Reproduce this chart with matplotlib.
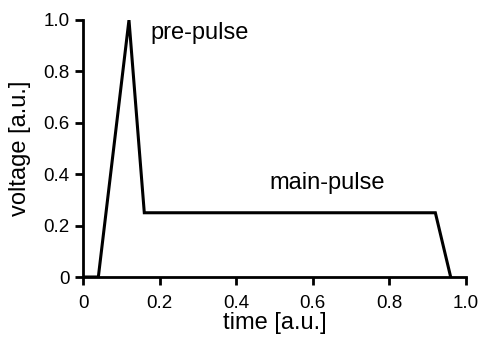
import matplotlib
matplotlib.use("Agg")
import matplotlib.pyplot as plt

time = [0.0, 0.04, 0.12, 0.16, 0.92, 0.96]
voltage = [0.0, 0.0, 1.0, 0.25, 0.25, 0.0]
xticks = [0, 0.2, 0.4, 0.6, 0.8, 1.0]
xticklabels = ["0", "0.2", "0.4", "0.6", "0.8", "1.0"]
yticks = [0, 0.2, 0.4, 0.6, 0.8, 1.0]
yticklabels = ["0", "0.2", "0.4", "0.6", "0.8", "1.0"]

plt.rcParams['font.family'] = ['Liberation Sans', 'DejaVu Sans']

fig = plt.figure(figsize=(4.81, 3.37), dpi=100)
ax = fig.add_axes([0.1726, 0.178, 0.7962, 0.7627])
ax.plot(time, voltage, color='black', lw=2.2, solid_joinstyle='miter')
ax.set_xlim(0, 1.0)
ax.set_ylim(0, 1.0)
ax.spines['top'].set_visible(False)
ax.spines['right'].set_visible(False)
for s in ['left', 'bottom']:
    ax.spines[s].set_linewidth(2.0)
ax.set_xticks(xticks)
ax.set_xticklabels(xticklabels)
ax.set_yticks(yticks)
ax.set_yticklabels(yticklabels)
ax.tick_params(direction='out', length=6, width=2, labelsize=13.5)
ax.tick_params(axis='x', pad=7)
ax.tick_params(axis='y', pad=3.5)
ax.set_xlabel('time [a.u.]', fontsize=17, labelpad=0)
ax.set_ylabel('voltage [a.u.]', fontsize=17, labelpad=9)
ax.text(0.175, 0.95, 'pre-pulse', fontsize=17, va='center', ha='left')
ax.text(0.488, 0.366, 'main-pulse', fontsize=17, va='center', ha='left')
for sp in ax.spines.values():
    sp.set_clip_on(False)
fig.savefig('out.png', dpi=100)
